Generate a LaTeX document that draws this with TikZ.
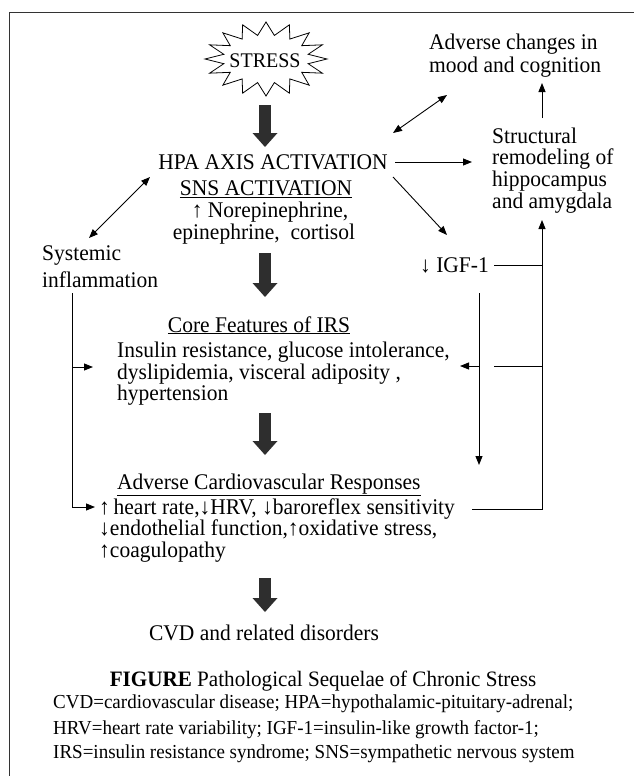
\documentclass[tikz,border=0pt]{standalone}
\usepackage{fontspec}
\setmainfont{Liberation Serif}[FakeStretch=0.96]
\usetikzlibrary{arrows.meta}
\begin{document}
\begin{tikzpicture}[x=1pt,y=-1pt,
  txt/.style={inner sep=0pt, font=\fontsize{22.4}{22}\selectfont},
  captxt/.style={inner sep=0pt, font=\fontsize{19.8}{22}\selectfont},
  ln/.style={line width=0.9pt},
  arr/.style={line width=0.9pt, -{Triangle[length=9pt,width=7pt]}},
  darr/.style={line width=0.9pt, {Triangle[length=9pt,width=7pt]}-{Triangle[length=9pt,width=7pt]}},
  bigarr/.style={line width=12pt, draw=black!82, -{Triangle[length=14pt,width=25pt,line width=0pt]}},
  starline/.style={line width=0.8pt}]
\useasboundingbox (0,0) rectangle (634,776);
% frame
\draw[line width=1pt, black!80] (9,776) -- (9,13) -- (634,13);
% starburst
\draw[starline] (327,59) \foreach \i in {0,...,15} {
  -- ({266+61*cos(22.5*\i)},{59+37*sin(22.5*\i)})
  -- ({266+43*cos(22.5*\i+11.25)},{59+24*sin(22.5*\i+11.25)}) } -- cycle;
\node[txt, font=\fontsize{20.8}{22}\selectfont, anchor=base] (stress) at (265,67) {STRESS};
% HPA block
\node[txt, anchor=base] (hpa) at (273,169) {HPA AXIS ACTIVATION};
\node[txt, anchor=base] (sns) at (266,195) {\underline{SNS ACTIVATION}};
\node[txt, anchor=base] (nor) at (270,217) {↑ Norepinephrine,};
\node[txt, anchor=base] (epi) at (264,239) {epinephrine,\ \ cortisol};
% systemic
\node[txt, anchor=base west] (sys1) at (42,260) {Systemic};
\node[txt, anchor=base west] (sys2) at (42,287) {inflammation};
% mood
\node[txt, anchor=base west] (mood1) at (429,50) {Adverse changes in};
\node[txt, anchor=base west] (mood2) at (429,72) {mood and cognition};
% structural
\node[txt, anchor=base west] (st1) at (492,143) {Structural};
\node[txt, anchor=base west] (st2) at (492,164) {remodeling of};
\node[txt, anchor=base west] (st3) at (492,186) {hippocampus};
\node[txt, anchor=base west] (st4) at (492,208) {and amygdala};
% IGF
\node[txt, anchor=base west] (igf) at (420,272) {↓ IGF-1};
% core
\node[txt, anchor=base] (core) at (259,332) {\underline{Core Features of IRS}};
\node[txt, anchor=base west] (irs1) at (117,357) {Insulin resistance, glucose intolerance,};
\node[txt, anchor=base west] (irs2) at (117,379) {dyslipidemia, visceral adiposity ,};
\node[txt, anchor=base west] (irs3) at (117,400) {hypertension};
% cardio
\node[txt, anchor=base west] (acr) at (117,489) {\underline{Adverse Cardiovascular Responses}};
\node[txt, anchor=base west] (cv1) at (99,514) {↑\,heart rate,↓HRV, ↓baroreflex sensitivity};
\node[txt, anchor=base west] (cv2) at (99,535) {↓endothelial function,↑oxidative stress,};
\node[txt, anchor=base west] (cv3) at (99,557) {↑coagulopathy};
% outcome
\node[txt, anchor=base] (cvd) at (264,640) {CVD and related disorders};
% caption
\node[captxt, font=\fontsize{22}{22}\selectfont, anchor=base] (fig) at (323,686) {\textbf{FIGURE} Pathological Sequelae of Chronic Stress};
\node[captxt, anchor=base west] (cap1) at (53,708) {CVD=cardiovascular disease; HPA=hypothalamic-pituitary-adrenal;};
\node[captxt, anchor=base west] (cap2) at (53,734) {HRV=heart rate variability; IGF-1=insulin-like growth factor-1;};
\node[captxt, anchor=base west] (cap3) at (53,758) {IRS=insulin resistance syndrome; SNS=sympathetic nervous system};
% big arrows
\coordinate (a1s) at (265,105); \coordinate (a1e) at (265,147);
\coordinate (a2s) at (265,253); \coordinate (a2e) at (265,297);
\coordinate (a3s) at (265,413); \coordinate (a3e) at (265,455);
\coordinate (a4s) at (265,578); \coordinate (a4e) at (265,612);
\draw[bigarr] (a1s) -- (a1e);
\draw[bigarr] (a2s) -- (a2e);
\draw[bigarr] (a3s) -- (a3e);
\draw[bigarr] (a4s) -- (a4e);
% thin connectors
\coordinate (hpaE) at (395,162); \coordinate (stW) at (472,162);
\draw[arr] (hpaE) -- (stW);
\coordinate (sysNE) at (89,238); \coordinate (hpaSW) at (150,177);
\draw[darr] (sysNE) -- (hpaSW);
\coordinate (hpaNE) at (393,133); \coordinate (moodSW) at (447,95);
\draw[darr] (hpaNE) -- (moodSW);
\coordinate (hpaSE) at (393,177); \coordinate (igfNW) at (447,235);
\draw[arr] (hpaSE) -- (igfNW);
\coordinate (stN) at (542,118); \coordinate (moodS) at (542,83);
\draw[arr] (stN) -- (moodS);
\coordinate (igfS) at (479,293); \coordinate (cvNE) at (479,465);
\draw[arr] (igfS) -- (cvNE);
\coordinate (igfE) at (494,265); \coordinate (rt1) at (542,265);
\draw[ln] (igfE) -- (rt1);
\coordinate (cvE) at (472,509); \coordinate (rtB) at (542,509); \coordinate (stS) at (542,220);
\draw[arr] (cvE) -- (rtB) -- (stS);
\coordinate (irsR) at (494,366); \coordinate (rt2) at (542,366);
\draw[ln] (irsR) -- (rt2);
\coordinate (cross) at (479,366); \coordinate (irsE) at (460,366);
\draw[arr] (cross) -- (irsE);
\coordinate (sysS) at (72,293); \coordinate (sysB) at (72,507); \coordinate (cvW) at (95,507);
\draw[arr] (sysS) -- (sysB) -- (cvW);
\coordinate (sysM) at (72,367); \coordinate (irsW) at (93,367);
\draw[arr] (sysM) -- (irsW);
\end{tikzpicture}
\end{document}
